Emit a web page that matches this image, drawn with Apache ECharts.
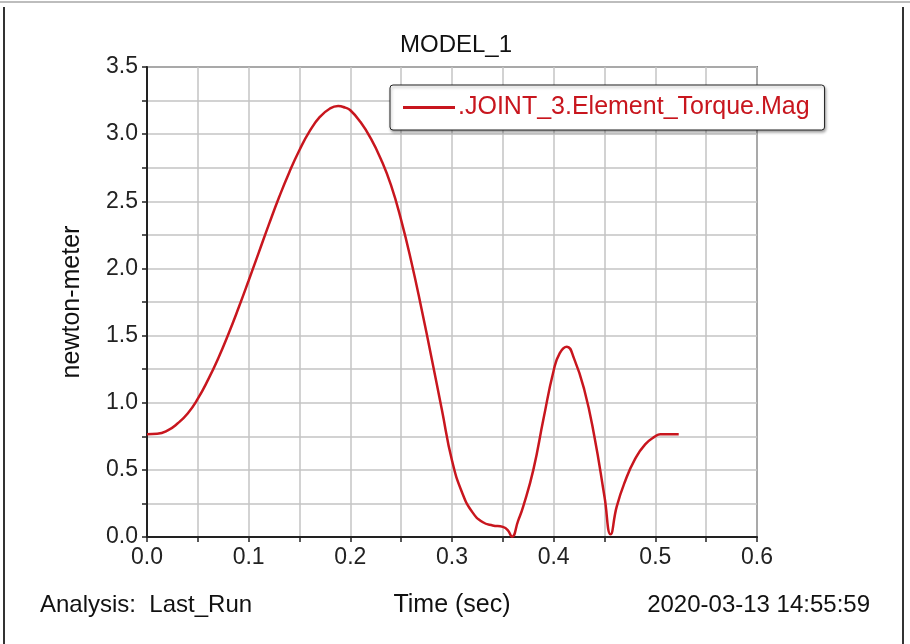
<!DOCTYPE html>
<html>
<head>
<meta charset="utf-8">
<script src="https://cdn.jsdelivr.net/npm/echarts@6/dist/echarts.min.js"></script>
<style>
  html, body { margin: 0; padding: 0; background: #ffffff; }
  #chart { width: 910px; height: 644px; }
</style>
</head>
<body>
<div id="chart"></div>
<script>
// Torque magnitude of JOINT_3 over the simulation time
const times = [0, 0.01, 0.02, 0.03, 0.04, 0.05, 0.06, 0.07, 0.08, 0.09,
  0.10, 0.11, 0.12, 0.13, 0.14, 0.15, 0.16, 0.17, 0.18, 0.188, 0.195,
  0.20, 0.21, 0.22, 0.23, 0.24, 0.25, 0.26, 0.27, 0.28, 0.29, 0.30,
  0.31, 0.32, 0.33, 0.34, 0.35, 0.355, 0.359, 0.365, 0.37, 0.38, 0.39,
  0.40, 0.406, 0.413, 0.42, 0.43, 0.44, 0.45, 0.456, 0.462, 0.47, 0.48,
  0.49, 0.50, 0.505, 0.523];
const torque = [0.765, 0.768, 0.792, 0.845, 0.920, 1.030, 1.170, 1.330, 1.510, 1.705,
  1.910, 2.120, 2.330, 2.532, 2.717, 2.882, 3.022, 3.128, 3.191, 3.209, 3.197,
  3.178, 3.090, 2.970, 2.815, 2.620, 2.360, 2.050, 1.700, 1.330, 0.950, 0.570,
  0.330, 0.185, 0.112, 0.086, 0.075, 0.050, 0.002, 0.120, 0.226, 0.500, 0.880,
  1.240, 1.370, 1.417, 1.330, 1.100, 0.750, 0.300, 0.020, 0.226, 0.410, 0.580,
  0.690, 0.750, 0.765, 0.765];

const seriesName = '.JOINT_3.Element_Torque.Mag';
const chartTitle = 'MODEL_1';
const xName = 'Time (sec)';
const yName = 'newton-meter';
const analysisText = 'Analysis:  Last_Run';
const stampText = '2020-03-13 14:55:59';

const FONT = '"Liberation Sans", Arial, sans-serif';
const RED = '#c8161e';

const chart = echarts.init(document.getElementById('chart'), null, { renderer: 'canvas' });

chart.setOption({
  backgroundColor: '#ffffff',
  animation: false,
  title: {
    text: chartTitle,
    left: 451,
    textAlign: 'center',
    top: 28,
    textStyle: { fontFamily: FONT, fontSize: 24, fontWeight: 'normal', color: '#111' }
  },
  legend: {
    left: 390,
    top: 85,
    padding: [10, 15, 10, 13],
    backgroundColor: '#ffffff',
    borderColor: '#222',
    borderWidth: 1,
    borderRadius: 3,
    shadowColor: 'rgba(0,0,0,0.35)',
    shadowBlur: 3,
    shadowOffsetX: 1,
    shadowOffsetY: 2,
    itemWidth: 52,
    itemHeight: 3,
    itemGap: 0,
    icon: 'rect',
    textStyle: { fontFamily: FONT, fontSize: 25, color: RED, padding: [0, 0, 0, -2] },
    data: [seriesName]
  },
  grid: {
    left: 147, right: 153, top: 67, bottom: 107,
    show: true,
    borderColor: '#222',
    borderWidth: 1.5,
    containLabel: false
  },
  xAxis: {
    type: 'value',
    min: 0, max: 0.6, interval: 0.1,
    name: xName,
    nameLocation: 'middle',
    nameGap: 56,
    nameTextStyle: { fontFamily: FONT, fontSize: 25, color: '#111' },
    axisLine: { show: true, lineStyle: { color: '#222', width: 2 } },
    axisTick: { show: true, length: 5, lineStyle: { color: '#222', width: 1.5 } },
    minorTick: { show: true, splitNumber: 2, length: 5, lineStyle: { color: '#222', width: 1.5 } },
    axisLabel: {
      fontFamily: FONT, fontSize: 23, color: '#222', margin: 9,
      formatter: v => v.toFixed(1)
    },
    splitLine: { show: true, lineStyle: { color: '#c4c4c4', width: 1.5 } },
    minorSplitLine: { show: true, lineStyle: { color: '#c4c4c4', width: 1.5 } }
  },
  yAxis: {
    type: 'value',
    min: 0, max: 3.5, interval: 0.5,
    name: yName,
    nameLocation: 'middle',
    nameGap: 62,
    nameRotate: 90,
    nameTextStyle: { fontFamily: FONT, fontSize: 25, color: '#111' },
    axisLine: { show: true, lineStyle: { color: '#222', width: 2 } },
    axisTick: { show: true, length: 5, lineStyle: { color: '#222', width: 1.5 } },
    minorTick: { show: true, splitNumber: 2, length: 5, lineStyle: { color: '#222', width: 1.5 } },
    axisLabel: {
      fontFamily: FONT, fontSize: 23, color: '#222', margin: 9,
      formatter: v => v.toFixed(1)
    },
    splitLine: { show: true, lineStyle: { color: '#c4c4c4', width: 1.5 } },
    minorSplitLine: { show: true, lineStyle: { color: '#c4c4c4', width: 1.5 } }
  },
  series: [{
    name: seriesName,
    type: 'line',
    data: times.map((t, i) => [t, torque[i]]),
    showSymbol: false,
    symbol: 'none',
    smooth: 0.5,
    itemStyle: { color: RED },
    lineStyle: { color: RED, width: 2.5 }
  }],
  graphic: [
    // outer frame of the plot window
    { type: 'line', shape: { x1: 0, y1: 2, x2: 910, y2: 2 }, style: { stroke: '#bdbdbd', lineWidth: 2 } },
    { type: 'line', shape: { x1: 4, y1: 7, x2: 4, y2: 644 }, style: { stroke: '#333', lineWidth: 2 } },
    { type: 'line', shape: { x1: 903, y1: 7, x2: 903, y2: 644 }, style: { stroke: '#333', lineWidth: 2 } },
    {
      type: 'text', left: 40, top: 593,
      style: { text: analysisText, fontFamily: FONT, fontSize: 24, fill: '#111' }
    },
    {
      type: 'text', right: 40, top: 593,
      style: { text: stampText, fontFamily: FONT, fontSize: 24, fill: '#111' }
    }
  ]
});
</script>
</body>
</html>
